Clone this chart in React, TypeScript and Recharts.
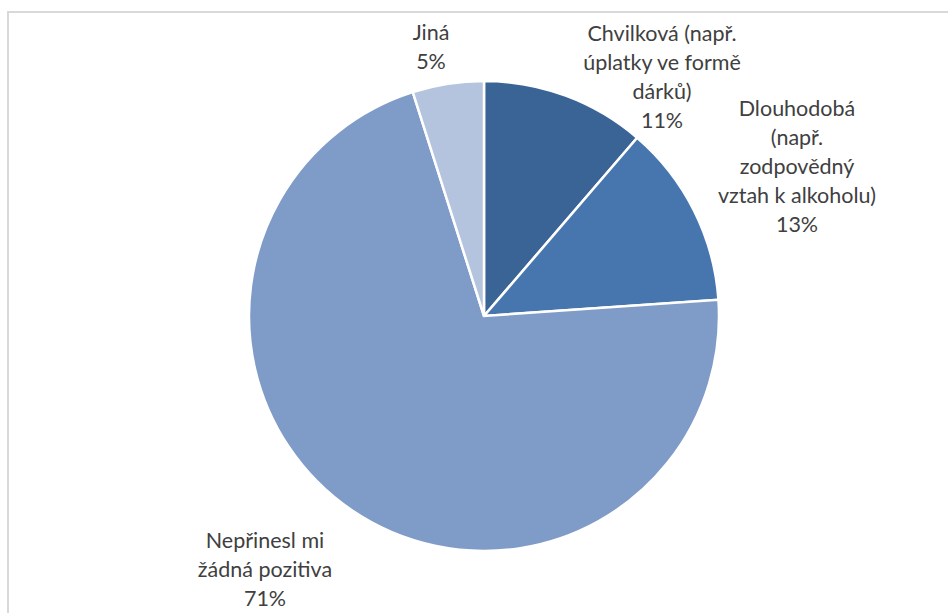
import React from "react";
import { PieChart, Pie, Cell } from "recharts";

const categories = [
  ["Chvilková (např.", "úplatky ve formě", "dárků)"],
  ["Dlouhodobá", "(např.", "zodpovědný", "vztah k alkoholu)"],
  ["Nepřinesl mi", "žádná pozitiva"],
  ["Jiná"],
];
const values = [11.3, 12.6, 71.2, 4.9];
const percentLabels = ["11%", "13%", "71%", "5%"];
const colors = ["#3B6496", "#4776AE", "#7F9BC7", "#B4C3DE"];

// label block centres relative to the pie centre (layout only)
const labelOffsets: [number, number][] = [
  [178, -240],
  [313, -150],
  [-219, 253],
  [-53, -270],
];

const LINE_H = 29;

const data = categories.map((c, i) => ({ name: c.join(" "), lines: c, value: values[i], pct: percentLabels[i] }));

const renderLabel = (props: any) => {
  const { cx, cy, index } = props;
  const d = data[index];
  const lines = [...d.lines, d.pct];
  const [ox, oy] = labelOffsets[index];
  const x = cx + ox;
  const y0 = cy + oy - ((lines.length - 1) * LINE_H) / 2;
  return (
    <text
      key={`lbl-${index}`}
      x={x}
      y={y0}
      textAnchor="middle"
      dominantBaseline="central"
      fill="#404040"
      fontFamily="Lato, 'Noto Sans', sans-serif"
      fontSize={21.5}
    >
      {lines.map((l, i) => (
        <tspan key={i} x={x} y={y0 + i * LINE_H}>
          {l}
        </tspan>
      ))}
    </text>
  );
};

export default function App() {
  return (
    <div style={{ position: "absolute", left: 0, top: 0, width: 948, height: 613, overflow: "hidden", background: "#fff" }}>
      <div
        style={{
          position: "absolute",
          left: 7,
          top: 11,
          width: 980,
          height: 640,
          border: "2px solid #D9D9D9",
          boxSizing: "border-box",
        }}
      />
      <div style={{ position: "absolute", left: 0, top: 0 }}>
        <PieChart width={948} height={613} margin={{ top: 0, right: 0, bottom: 0, left: 0 }}>
          <Pie
            data={data}
            dataKey="value"
            nameKey="name"
            cx={484}
            cy={316}
            outerRadius={235}
            startAngle={90}
            endAngle={-270}
            stroke="#FFFFFF"
            strokeWidth={2.5}
            label={renderLabel}
            labelLine={false}
            isAnimationActive={false}
          >
            {data.map((_, i) => (
              <Cell key={i} fill={colors[i]} />
            ))}
          </Pie>
        </PieChart>
      </div>
    </div>
  );
}
